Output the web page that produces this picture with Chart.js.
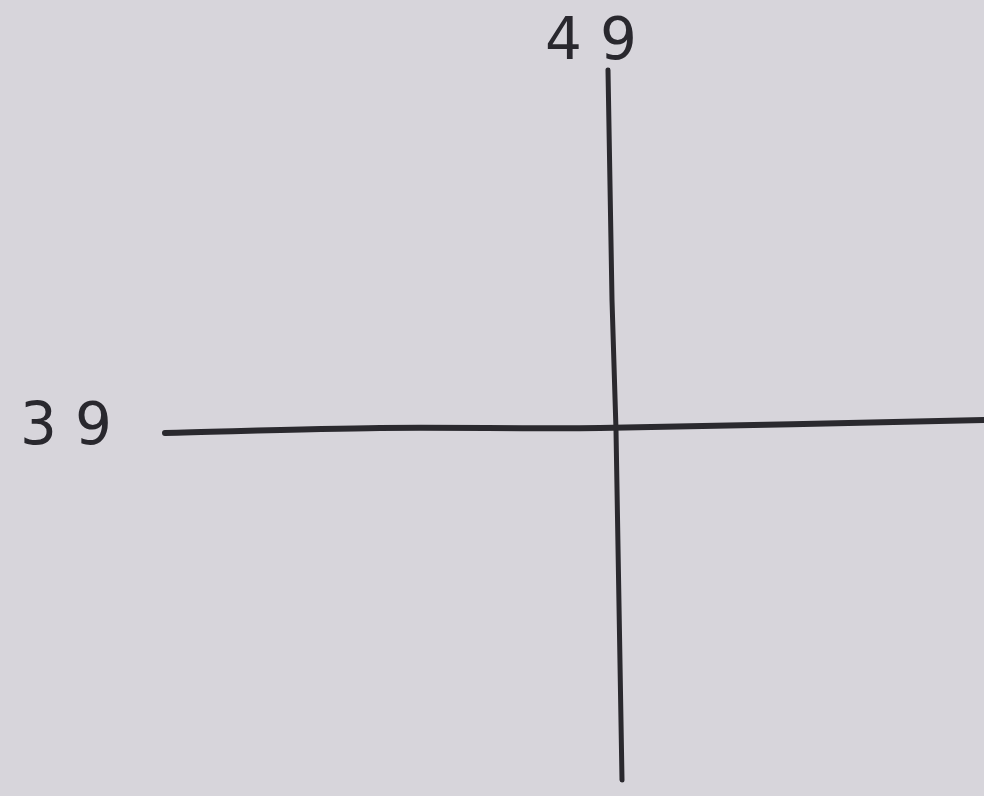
<!DOCTYPE html>
<html>
<head>
<meta charset="utf-8">
<title>Crossed lines</title>
<script src="https://cdn.jsdelivr.net/npm/chart.js@4.4.1/dist/chart.umd.min.js"></script>
<style>
  html, body { margin: 0; padding: 0; background: #d7d5db; }
  #wrap { width: 984px; height: 796px; position: relative; }
</style>
</head>
<body>
<div id="wrap"><canvas id="chart"></canvas></div>
<script>
// Hand-drawn axes, points in picture units (x right, y down)
const horizX = [165, 380, 600, 984];
const horizY = [433, 428, 428, 420];
const vertX = [608, 612, 616, 622];
const vertY = [70, 300, 430, 780];

// Labels written next to the lines
const labelText = ['49', '39'];
const labelX = [591, 66];
const labelY = [44, 429];

const toPoints = (xs, ys) => xs.map((x, i) => ({ x: x, y: ys[i] }));

// draws the handwritten numbers at data positions
const labelPlugin = {
    id: 'handLabels',
    afterDatasetsDraw(chart) {
        const { ctx, scales } = chart;
        const spacing = 18;
        ctx.save();
        ctx.fillStyle = '#29282e';
        ctx.font = '58px "DejaVu Sans"';
        ctx.textAlign = 'center';
        ctx.textBaseline = 'middle';
        if ('letterSpacing' in ctx) ctx.letterSpacing = spacing + 'px';
        labelText.forEach((t, i) => {
            // letterSpacing adds a trailing gap, so nudge right by half of it
            ctx.fillText(t, scales.x.getPixelForValue(labelX[i]) + spacing / 2,
                scales.y.getPixelForValue(labelY[i]));
        });
        ctx.restore();
    }
};

const ctx = document.getElementById('chart').getContext('2d');
new Chart(ctx, {
    type: 'scatter',
    data: {
        datasets: [
            {
                data: toPoints(horizX, horizY),
                showLine: true,
                borderColor: '#2a292e',
                borderWidth: 6,
                pointRadius: 0,
                tension: 0.3,
                borderCapStyle: 'round'
            },
            {
                data: toPoints(vertX, vertY),
                showLine: true,
                borderColor: '#2a292e',
                borderWidth: 5,
                pointRadius: 0,
                tension: 0,
                borderCapStyle: 'round'
            }
        ]
    },
    options: {
        responsive: true,
        maintainAspectRatio: false,
        animation: false,
        layout: { padding: 0 },
        plugins: {
            legend: { display: false },
            tooltip: { enabled: false }
        },
        scales: {
            x: { type: 'linear', min: 0, max: 984, display: false },
            y: { type: 'linear', min: 0, max: 796, reverse: true, display: false }
        }
    },
    plugins: [labelPlugin]
});
</script>
</body>
</html>
